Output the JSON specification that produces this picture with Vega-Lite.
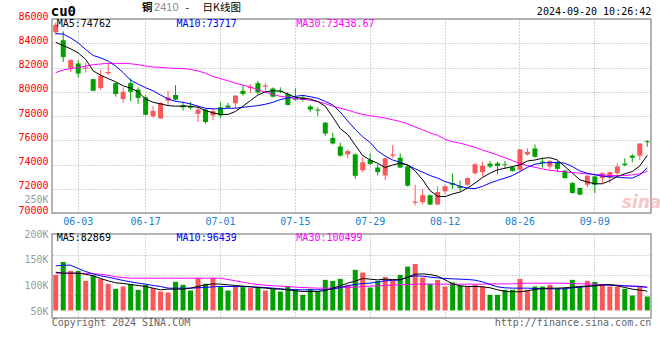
{
  "$schema": "https://vega.github.io/schema/vega-lite/v6.json",
  "background": "white",
  "padding": {"left": 17, "top": 0, "right": 6, "bottom": 4},
  "spacing": 1,
  "config": {
    "view": {"stroke": "#9a9a9a", "strokeWidth": 1.5},
    "axis": {"labelFont": "DejaVu Sans Mono", "labelFontSize": 10, "labelOverlap": false, "gridColor": "#a8a8a8", "gridDash": [1, 2], "gridWidth": 1, "ticks": false, "domain": false},
    "text": {"font": "DejaVu Sans Mono", "fontSize": 10}
  },
  "datasets": {
    "k": [
      {"d":"05-29","o":84900,"h":85700,"l":84700,"c":85520,"m5":84080,"m10":84790,"m30":81580,"v":121200,"vm5":126300,"vm10":138500,"vm30":124400},
      {"d":"05-30","o":84250,"h":84980,"l":82450,"c":82860,"m5":83810,"m10":84760,"m30":81800,"v":146200,"vm5":124400,"vm10":139800,"vm30":124400},
      {"d":"05-31","o":81960,"h":82670,"l":81630,"c":82610,"m5":83540,"m10":84440,"m30":81910,"v":128800,"vm5":124400,"vm10":139800,"vm30":124400},
      {"d":"06-03","o":82340,"h":82610,"l":81170,"c":81500,"m5":83210,"m10":84030,"m30":81990,"v":128800,"vm5":124400,"vm10":133300,"vm30":124400},
      {"d":"06-04","o":81910,"h":82400,"l":81580,"c":82010,"m5":82670,"m10":83480,"m30":82120,"v":109600,"vm5":122400,"vm10":127600,"vm30":123700},
      {"d":"06-05","o":81040,"h":81090,"l":80030,"c":80080,"m5":81720,"m10":82990,"m30":82230,"v":119800,"vm5":119200,"vm10":123100,"vm30":123100},
      {"d":"06-06","o":80300,"h":81800,"l":80140,"c":81310,"m5":81360,"m10":82800,"m30":82290,"v":113500,"vm5":114100,"vm10":119200,"vm30":122400},
      {"d":"06-07","o":81530,"h":82400,"l":81360,"c":81630,"m5":81090,"m10":82530,"m30":82340,"v":103900,"vm5":109600,"vm10":116700,"vm30":120500},
      {"d":"06-11","o":80710,"h":80760,"l":79590,"c":79810,"m5":80820,"m10":82120,"m30":82340,"v":94200,"vm5":105800,"vm10":113500,"vm30":117300},
      {"d":"06-12","o":79400,"h":80360,"l":79080,"c":80000,"m5":80490,"m10":81580,"m30":82340,"v":98700,"vm5":104500,"vm10":110300,"vm30":116000},
      {"d":"06-13","o":80710,"h":81090,"l":79210,"c":80000,"m5":80300,"m10":80950,"m30":82310,"v":103300,"vm5":102600,"vm10":107700,"vm30":114700},
      {"d":"06-14","o":80170,"h":80360,"l":79000,"c":79490,"m5":80000,"m10":80630,"m30":82230,"v":92300,"vm5":100600,"vm10":105100,"vm30":114700},
      {"d":"06-17","o":79540,"h":79730,"l":78040,"c":78100,"m5":79400,"m10":80330,"m30":82120,"v":101900,"vm5":98700,"vm10":103200,"vm30":114700},
      {"d":"06-18","o":77990,"h":78810,"l":77850,"c":78420,"m5":79130,"m10":80080,"m30":82040,"v":95600,"vm5":95500,"vm10":100600,"vm30":114700},
      {"d":"06-19","o":77800,"h":79130,"l":77770,"c":79080,"m5":79000,"m10":79730,"m30":82010,"v":89000,"vm5":92300,"vm10":98700,"vm30":114700},
      {"d":"06-20","o":79270,"h":80080,"l":78910,"c":79540,"m5":78860,"m10":79400,"m30":81960,"v":87100,"vm5":93600,"vm10":95500,"vm30":114700},
      {"d":"06-21","o":79730,"h":80550,"l":79270,"c":79350,"m5":78810,"m10":79210,"m30":81930,"v":107700,"vm5":93600,"vm10":95500,"vm30":114700},
      {"d":"06-24","o":78910,"h":79190,"l":78450,"c":78720,"m5":78810,"m10":79130,"m30":81910,"v":101900,"vm5":93600,"vm10":95500,"vm30":114700},
      {"d":"06-25","o":78810,"h":79130,"l":78530,"c":78670,"m5":78810,"m10":79000,"m30":81850,"v":91000,"vm5":95500,"vm10":95500,"vm30":114700},
      {"d":"06-26","o":78180,"h":78810,"l":77500,"c":78530,"m5":78720,"m10":78810,"m30":81720,"v":114800,"vm5":98700,"vm10":96200,"vm30":114700},
      {"d":"06-27","o":78530,"h":78640,"l":77360,"c":77500,"m5":78450,"m10":78640,"m30":81530,"v":103900,"vm5":101900,"vm10":96800,"vm30":114700},
      {"d":"06-28","o":78040,"h":78590,"l":77640,"c":78400,"m5":78260,"m10":78590,"m30":81250,"v":114800,"vm5":103800,"vm10":98100,"vm30":114700},
      {"d":"07-01","o":78720,"h":79130,"l":77830,"c":78040,"m5":78130,"m10":78590,"m30":81090,"v":97500,"vm5":103200,"vm10":98700,"vm30":114700},
      {"d":"07-02","o":78860,"h":79080,"l":78590,"c":78700,"m5":78130,"m10":78640,"m30":80900,"v":91000,"vm5":101900,"vm10":98700,"vm30":112200},
      {"d":"07-03","o":79050,"h":79730,"l":78640,"c":79680,"m5":78370,"m10":78640,"m30":80710,"v":100000,"vm5":100600,"vm10":98700,"vm30":109600},
      {"d":"07-04","o":80080,"h":80550,"l":79680,"c":79810,"m5":78810,"m10":78720,"m30":80550,"v":97500,"vm5":99400,"vm10":98700,"vm30":107000},
      {"d":"07-05","o":80300,"h":80630,"l":79890,"c":80410,"m5":79270,"m10":78780,"m30":80380,"v":95600,"vm5":98100,"vm10":98100,"vm30":104500},
      {"d":"07-08","o":80710,"h":80900,"l":79810,"c":79950,"m5":79730,"m10":78860,"m30":80170,"v":97500,"vm5":96800,"vm10":97400,"vm30":102600},
      {"d":"07-09","o":80410,"h":80710,"l":80080,"c":80520,"m5":80000,"m10":78970,"m30":79950,"v":91000,"vm5":95500,"vm10":96800,"vm30":101300},
      {"d":"07-10","o":80270,"h":80360,"l":79540,"c":79590,"m5":80080,"m10":79130,"m30":79780,"v":93700,"vm5":94200,"vm10":95500,"vm30":100000},
      {"d":"07-11","o":80080,"h":80360,"l":79890,"c":80000,"m5":80060,"m10":79350,"m30":79620,"v":89000,"vm5":93600,"vm10":94200,"vm30":99400},
      {"d":"07-12","o":79810,"h":79950,"l":78860,"c":78910,"m5":79810,"m10":79490,"m30":79540,"v":98700,"vm5":92300,"vm10":92900,"vm30":98700},
      {"d":"07-15","o":79490,"h":80270,"l":79270,"c":79350,"m5":79540,"m10":79620,"m30":79430,"v":93700,"vm5":90400,"vm10":92300,"vm30":97400},
      {"d":"07-16","o":79540,"h":79730,"l":79190,"c":79320,"m5":79460,"m10":79700,"m30":79380,"v":82700,"vm5":89100,"vm10":92300,"vm30":96800},
      {"d":"07-17","o":78780,"h":78910,"l":78320,"c":78530,"m5":79400,"m10":79590,"m30":79300,"v":94200,"vm5":89100,"vm10":92300,"vm30":96200},
      {"d":"07-18","o":78530,"h":78720,"l":77990,"c":78450,"m5":79190,"m10":79460,"m30":79190,"v":89000,"vm5":89100,"vm10":92300,"vm30":95500},
      {"d":"07-19","o":77450,"h":77500,"l":76360,"c":76550,"m5":78810,"m10":79210,"m30":79020,"v":111500,"vm5":91000,"vm10":92300,"vm30":95500},
      {"d":"07-22","o":76190,"h":76630,"l":75650,"c":75730,"m5":77910,"m10":78910,"m30":78810,"v":109600,"vm5":95500,"vm10":93600,"vm30":95500},
      {"d":"07-23","o":75490,"h":75810,"l":74640,"c":74730,"m5":76960,"m10":78320,"m30":78640,"v":113500,"vm5":100000,"vm10":96800,"vm30":96200},
      {"d":"07-24","o":74830,"h":75240,"l":74510,"c":75110,"m5":76470,"m10":77580,"m30":78480,"v":101900,"vm5":105100,"vm10":100000,"vm30":96800},
      {"d":"07-25","o":74830,"h":74920,"l":72820,"c":73070,"m5":75600,"m10":76900,"m30":78290,"v":130800,"vm5":109000,"vm10":102600,"vm30":97400},
      {"d":"07-26","o":73530,"h":74560,"l":73370,"c":74180,"m5":74730,"m10":76280,"m30":78130,"v":125600,"vm5":114100,"vm10":104500,"vm30":98700},
      {"d":"07-29","o":74370,"h":74920,"l":73960,"c":74050,"m5":74370,"m10":75810,"m30":78020,"v":96700,"vm5":112800,"vm10":105100,"vm30":99400},
      {"d":"07-30","o":73750,"h":74020,"l":73090,"c":73370,"m5":74100,"m10":75110,"m30":77930,"v":109600,"vm5":111500,"vm10":107700,"vm30":100000},
      {"d":"07-31","o":73090,"h":74560,"l":72710,"c":74510,"m5":73750,"m10":74700,"m30":77830,"v":116700,"vm5":112800,"vm10":109600,"vm30":100600},
      {"d":"08-01","o":74730,"h":75600,"l":74560,"c":74830,"m5":73960,"m10":74370,"m30":77690,"v":109600,"vm5":112200,"vm10":110300,"vm30":101300},
      {"d":"08-02","o":74560,"h":74920,"l":73690,"c":73750,"m5":74100,"m10":74180,"m30":77550,"v":121200,"vm5":111500,"vm10":111500,"vm30":101900},
      {"d":"08-05","o":73850,"h":73960,"l":72170,"c":72250,"m5":73960,"m10":73960,"m30":77360,"v":137100,"vm5":116700,"vm10":116700,"vm30":102600},
      {"d":"08-06","o":70840,"h":72330,"l":70620,"c":70940,"m5":73470,"m10":73640,"m30":77090,"v":142300,"vm5":122400,"vm10":119200,"vm30":103200},
      {"d":"08-07","o":70890,"h":72000,"l":70700,"c":71460,"m5":72740,"m10":73370,"m30":76870,"v":116000,"vm5":123100,"vm10":118600,"vm30":103200},
      {"d":"08-08","o":71460,"h":71520,"l":70650,"c":70700,"m5":71840,"m10":73090,"m30":76600,"v":103900,"vm5":121800,"vm10":116700,"vm30":103200},
      {"d":"08-09","o":70700,"h":72200,"l":70650,"c":71730,"m5":71380,"m10":72880,"m30":76410,"v":111500,"vm5":118600,"vm10":115400,"vm30":103200},
      {"d":"08-12","o":71790,"h":72330,"l":71520,"c":72200,"m5":71350,"m10":72590,"m30":76080,"v":98700,"vm5":111500,"vm10":114100,"vm30":103200},
      {"d":"08-13","o":72470,"h":73280,"l":72000,"c":72330,"m5":71570,"m10":72410,"m30":75870,"v":106400,"vm5":103800,"vm10":113500,"vm30":103200},
      {"d":"08-14","o":72200,"h":72660,"l":71790,"c":72060,"m5":71730,"m10":72200,"m30":75760,"v":100600,"vm5":100000,"vm10":112800,"vm30":103200},
      {"d":"08-15","o":72330,"h":72930,"l":72200,"c":72880,"m5":72060,"m10":72060,"m30":75600,"v":98700,"vm5":98700,"vm10":112200,"vm30":103200},
      {"d":"08-16","o":73280,"h":74100,"l":73150,"c":74020,"m5":72470,"m10":72010,"m30":75410,"v":101900,"vm5":98700,"vm10":110900,"vm30":103200},
      {"d":"08-19","o":73370,"h":74240,"l":73010,"c":73910,"m5":72930,"m10":72200,"m30":75190,"v":98700,"vm5":98100,"vm10":107700,"vm30":103200},
      {"d":"08-20","o":74070,"h":74290,"l":73690,"c":73830,"m5":73280,"m10":72470,"m30":75000,"v":82700,"vm5":96200,"vm10":102600,"vm30":103800},
      {"d":"08-21","o":74100,"h":74240,"l":73200,"c":73880,"m5":73560,"m10":72690,"m30":74780,"v":82700,"vm5":92300,"vm10":98100,"vm30":103800},
      {"d":"08-22","o":74020,"h":74290,"l":73690,"c":73960,"m5":73690,"m10":72880,"m30":74560,"v":92300,"vm5":89100,"vm10":96200,"vm30":103800},
      {"d":"08-23","o":73770,"h":73830,"l":73420,"c":73470,"m5":73830,"m10":73090,"m30":74320,"v":92300,"vm5":88500,"vm10":95500,"vm30":103800},
      {"d":"08-26","o":73560,"h":75270,"l":73470,"c":75240,"m5":73960,"m10":73420,"m30":74070,"v":113500,"vm5":88500,"vm10":95500,"vm30":104500},
      {"d":"08-27","o":74830,"h":75320,"l":74730,"c":75050,"m5":74290,"m10":73770,"m30":73910,"v":92300,"vm5":90400,"vm10":95500,"vm30":105100},
      {"d":"08-28","o":75320,"h":75650,"l":74560,"c":74640,"m5":74370,"m10":74020,"m30":73770,"v":98700,"vm5":92900,"vm10":94900,"vm30":105100},
      {"d":"08-29","o":74240,"h":74560,"l":73750,"c":74150,"m5":74510,"m10":74130,"m30":73640,"v":98700,"vm5":94900,"vm10":94200,"vm30":105100},
      {"d":"08-30","o":73830,"h":74370,"l":73640,"c":74290,"m5":74560,"m10":74150,"m30":73530,"v":101900,"vm5":95500,"vm10":94200,"vm30":105100},
      {"d":"09-02","o":74180,"h":74290,"l":73420,"c":73640,"m5":74370,"m10":74180,"m30":73450,"v":95600,"vm5":95500,"vm10":94200,"vm30":105100},
      {"d":"09-03","o":73500,"h":73560,"l":72820,"c":72880,"m5":73830,"m10":74100,"m30":73390,"v":95600,"vm5":96200,"vm10":94200,"vm30":105100},
      {"d":"09-04","o":72470,"h":72550,"l":71600,"c":71650,"m5":73280,"m10":73830,"m30":73340,"v":111500,"vm5":97400,"vm10":96200,"vm30":104500},
      {"d":"09-05","o":72060,"h":72110,"l":71460,"c":71520,"m5":72740,"m10":73470,"m30":73280,"v":98700,"vm5":98700,"vm10":97400,"vm30":103800},
      {"d":"09-06","o":72330,"h":73150,"l":72110,"c":73070,"m5":72550,"m10":73280,"m30":73230,"v":109600,"vm5":99400,"vm10":98700,"vm30":103800},
      {"d":"09-09","o":73010,"h":73070,"l":71650,"c":72330,"m5":72410,"m10":73150,"m30":73170,"v":107700,"vm5":100000,"vm10":100600,"vm30":103200},
      {"d":"09-10","o":72880,"h":73370,"l":72470,"c":73280,"m5":72410,"m10":73040,"m30":73150,"v":103300,"vm5":101300,"vm10":101900,"vm30":102600},
      {"d":"09-11","o":72930,"h":73420,"l":72470,"c":73370,"m5":72660,"m10":72980,"m30":73090,"v":98700,"vm5":102600,"vm10":101300,"vm30":101900},
      {"d":"09-12","o":73280,"h":74100,"l":73010,"c":73830,"m5":73010,"m10":72960,"m30":73090,"v":98700,"vm5":100000,"vm10":100600,"vm30":101300},
      {"d":"09-13","o":74070,"h":74510,"l":73830,"c":73960,"m5":73230,"m10":72900,"m30":73090,"v":94200,"vm5":96800,"vm10":100000,"vm30":100000},
      {"d":"09-18","o":74730,"h":74860,"l":74180,"c":74560,"m5":73420,"m10":72880,"m30":73150,"v":81300,"vm5":93600,"vm10":99400,"vm30":99400},
      {"d":"09-19","o":74730,"h":75730,"l":74370,"c":75730,"m5":73880,"m10":73150,"m30":73230,"v":100000,"vm5":91700,"vm10":98700,"vm30":98700},
      {"d":"09-20","o":75920,"h":76000,"l":75460,"c":75840,"m5":74760,"m10":73720,"m30":73440,"v":79400,"vm5":89700,"vm10":97400,"vm30":96800}
    ]
  },
  "vconcat": [
    {
      "width": 599,
      "height": 194,
      "layer": [
        {
          "data": {"name": "k"},
          "encoding": {
            "x": {"field": "d", "type": "ordinal", "title": null,
                  "scale": {"paddingInner": 0, "paddingOuter": 0},
                  "axis": {"values": ["06-03","06-17","07-01","07-15","07-29","08-12","08-26","09-09"], "labelAngle": 0, "labelOverlap": false, "labelColor": "#1a80cf", "labelPadding": 3, "grid": true, "bandPosition": 0.5}}
          },
          "layer": [
            {
              "mark": {"type": "rule", "strokeWidth": 1},
              "encoding": {
                "y": {"field": "l", "type": "quantitative", "title": null,
                      "scale": {"domain": [70000, 86000], "nice": false, "zero": false},
                      "axis": {"values": [70000,72000,74000,76000,78000,80000,82000,84000,86000], "tickCount": 30, "format": "d", "labelOverlap": false, "labelColor": "#ff0000", "labelBaseline": "alphabetic", "labelPadding": 4, "grid": true}},
                "y2": {"field": "h"},
                "color": {"condition": {"test": "datum.c >= datum.o", "value": "#fa5858"}, "value": "#00a000"}
              }
            },
            {
              "mark": {"type": "bar", "width": 5},
              "encoding": {
                "y": {"field": "o", "type": "quantitative", "title": null},
                "y2": {"field": "c"},
                "color": {"condition": {"test": "datum.c >= datum.o", "value": "#fa5858"}, "value": "#00a000"}
              }
            },
            {"mark": {"type": "line", "strokeWidth": 1, "color": "#ff00ff"}, "encoding": {"y": {"field": "m30", "type": "quantitative", "title": null}}},
            {"mark": {"type": "line", "strokeWidth": 1, "color": "#0000ff"}, "encoding": {"y": {"field": "m10", "type": "quantitative", "title": null}}},
            {"mark": {"type": "line", "strokeWidth": 1, "color": "#000000"}, "encoding": {"y": {"field": "m5", "type": "quantitative", "title": null}}},
            {
              "data": {"values": [{}]},
              "mark": {"type": "text", "align": "left", "baseline": "alphabetic", "dx": 1, "dy": 7.7, "color": "#000000"},
              "encoding": {"x": {"datum": "05-29", "type": "ordinal"}, "y": {"datum": 86000, "type": "quantitative"}, "text": {"value": "MA5:74762"}}
            },
            {
              "data": {"values": [{}]},
              "mark": {"type": "text", "align": "left", "baseline": "alphabetic", "dx": 1, "dy": 7.7, "color": "#0000ff"},
              "encoding": {"x": {"datum": "06-21", "type": "ordinal"}, "y": {"datum": 86000, "type": "quantitative"}, "text": {"value": "MA10:73717"}}
            },
            {
              "data": {"values": [{}]},
              "mark": {"type": "text", "align": "left", "baseline": "alphabetic", "dx": 1, "dy": 7.7, "color": "#ff00ff"},
              "encoding": {"x": {"datum": "07-15", "type": "ordinal"}, "y": {"datum": 86000, "type": "quantitative"}, "text": {"value": "MA30:73438.67"}}
            },
            {
              "data": {"values": [{}]},
              "mark": {"type": "text", "align": "left", "baseline": "alphabetic", "dx": -5, "dy": -3, "fontSize": 14, "fontWeight": "bold", "color": "#000000"},
              "encoding": {"x": {"datum": "05-29", "type": "ordinal"}, "y": {"datum": 86000, "type": "quantitative"}, "text": {"value": "cu0"}}
            },
            {
              "data": {"values": [{}]},
              "mark": {"type": "text", "align": "left", "baseline": "alphabetic", "dx": -3.5, "dy": -8, "font": "Noto Sans CJK SC", "fontSize": 10.5, "fontWeight": "bold", "color": "#000000"},
              "encoding": {"x": {"datum": "06-17", "type": "ordinal"}, "y": {"datum": 86000, "type": "quantitative"}, "text": {"value": "铜"}}
            },
            {
              "data": {"values": [{}]},
              "mark": {"type": "text", "align": "left", "baseline": "alphabetic", "dx": 8.5, "dy": -8.5, "font": "Liberation Sans", "fontSize": 11, "color": "#8a8a8a"},
              "encoding": {"x": {"datum": "06-17", "type": "ordinal"}, "y": {"datum": 86000, "type": "quantitative"}, "text": {"value": "2410"}}
            },
            {
              "data": {"values": [{}]},
              "mark": {"type": "text", "align": "left", "baseline": "alphabetic", "dx": 40, "dy": -8, "font": "Noto Sans CJK SC", "fontSize": 10.5, "color": "#000000"},
              "encoding": {"x": {"datum": "06-17", "type": "ordinal"}, "y": {"datum": 86000, "type": "quantitative"}, "text": {"value": "-"}}
            },
            {
              "data": {"values": [{}]},
              "mark": {"type": "text", "align": "left", "baseline": "alphabetic", "dx": 57, "dy": -8, "font": "Noto Sans CJK SC", "fontSize": 10.5, "color": "#000000"},
              "encoding": {"x": {"datum": "06-17", "type": "ordinal"}, "y": {"datum": 86000, "type": "quantitative"}, "text": {"value": "日K线图"}}
            },
            {
              "data": {"values": [{}]},
              "mark": {"type": "text", "align": "right", "baseline": "alphabetic", "dx": 4, "dy": -4, "color": "#000000"},
              "encoding": {"x": {"datum": "09-20", "type": "ordinal"}, "y": {"datum": 86000, "type": "quantitative"}, "text": {"value": "2024-09-20 10:26:42"}}
            },
            {
              "data": {"values": [{}]},
              "mark": {"type": "text", "align": "left", "baseline": "middle", "dx": -3, "font": "DejaVu Sans", "fontSize": 17, "fontWeight": "bold", "fontStyle": "italic", "color": "#f2b0b0", "opacity": 0.7},
              "encoding": {"x": {"datum": "09-13", "type": "ordinal"}, "y": {"datum": 70850, "type": "quantitative"}, "text": {"value": "sina"}}
            }
          ]
        },
        {
          "data": {"values": [{}]},
          "mark": {"type": "rule", "opacity": 0},
          "encoding": {
            "y": {"datum": 70850, "type": "quantitative",
                  "axis": {"orient": "left", "values": [70850], "tickCount": 30, "labelExpr": "'250K'", "labelColor": "#999999", "labelBaseline": "alphabetic", "labelPadding": 4, "grid": false, "title": null}}
          }
        }
      ],
      "resolve": {"axis": {"y": "independent"}}
    },
    {
      "width": 599,
      "height": 84,
      "layer": [
        {
          "data": {"name": "k"},
          "encoding": {
            "x": {"field": "d", "type": "ordinal", "title": null,
                  "scale": {"paddingInner": 0, "paddingOuter": 0},
                  "axis": {"values": ["06-03","06-17","07-01","07-15","07-29","08-12","08-26","09-09"], "labels": false, "grid": true, "bandPosition": 0.5}}
          },
          "layer": [
            {
              "mark": {"type": "bar", "width": 5},
              "encoding": {
                "y": {"field": "v", "type": "quantitative", "title": null,
                      "scale": {"domain": [37900, 200000], "nice": false, "zero": false},
                      "axis": {"values": [50000, 100000, 150000, 200000], "tickCount": 30, "labelExpr": "datum.value / 1000 + 'K'", "labelOverlap": false, "labelColor": "#999999", "labelBaseline": "middle", "labelPadding": 4, "grid": false}},
                "y2": {"datum": 52500},
                "color": {"condition": {"test": "datum.c >= datum.o", "value": "#fa5858"}, "value": "#00a000"}
              }
            },
            {"mark": {"type": "line", "strokeWidth": 1, "color": "#ff00ff"}, "encoding": {"y": {"field": "vm30", "type": "quantitative", "title": null}}},
            {"mark": {"type": "line", "strokeWidth": 1, "color": "#0000ff"}, "encoding": {"y": {"field": "vm10", "type": "quantitative", "title": null}}},
            {"mark": {"type": "line", "strokeWidth": 1, "color": "#000000"}, "encoding": {"y": {"field": "vm5", "type": "quantitative", "title": null}}},
            {
              "data": {"values": [{}]},
              "mark": {"type": "text", "align": "left", "baseline": "alphabetic", "dx": 1, "dy": 6.5, "color": "#000000"},
              "encoding": {"x": {"datum": "05-29", "type": "ordinal"}, "y": {"datum": 200000, "type": "quantitative"}, "text": {"value": "MA5:82869"}}
            },
            {
              "data": {"values": [{}]},
              "mark": {"type": "text", "align": "left", "baseline": "alphabetic", "dx": 1, "dy": 6.5, "color": "#0000ff"},
              "encoding": {"x": {"datum": "06-21", "type": "ordinal"}, "y": {"datum": 200000, "type": "quantitative"}, "text": {"value": "MA10:96439"}}
            },
            {
              "data": {"values": [{}]},
              "mark": {"type": "text", "align": "left", "baseline": "alphabetic", "dx": 1, "dy": 6.5, "color": "#ff00ff"},
              "encoding": {"x": {"datum": "07-15", "type": "ordinal"}, "y": {"datum": 200000, "type": "quantitative"}, "text": {"value": "MA30:100499"}}
            },
            {
              "data": {"values": [{}]},
              "mark": {"type": "text", "align": "left", "baseline": "alphabetic", "dx": -4, "dy": 8, "color": "#666666"},
              "encoding": {"x": {"datum": "05-29", "type": "ordinal"}, "y": {"datum": 37900, "type": "quantitative"}, "text": {"value": "Copyright 2024 SINA.COM"}}
            },
            {
              "data": {"values": [{}]},
              "mark": {"type": "text", "align": "right", "baseline": "alphabetic", "dx": 4, "dy": 8, "color": "#666666"},
              "encoding": {"x": {"datum": "09-20", "type": "ordinal"}, "y": {"datum": 37900, "type": "quantitative"}, "text": {"value": "http://finance.sina.com.cn"}}
            }
          ]
        },
        {
          "data": {"values": [{}]},
          "mark": {"type": "rule", "opacity": 0},
          "encoding": {
            "y": {"datum": 100000, "type": "quantitative",
                  "axis": {"orient": "right", "values": [81400, 121200, 159600], "tickCount": 30, "labels": false, "grid": true, "title": null}}
          }
        }
      ],
      "resolve": {"axis": {"y": "independent"}}
    }
  ]
}
